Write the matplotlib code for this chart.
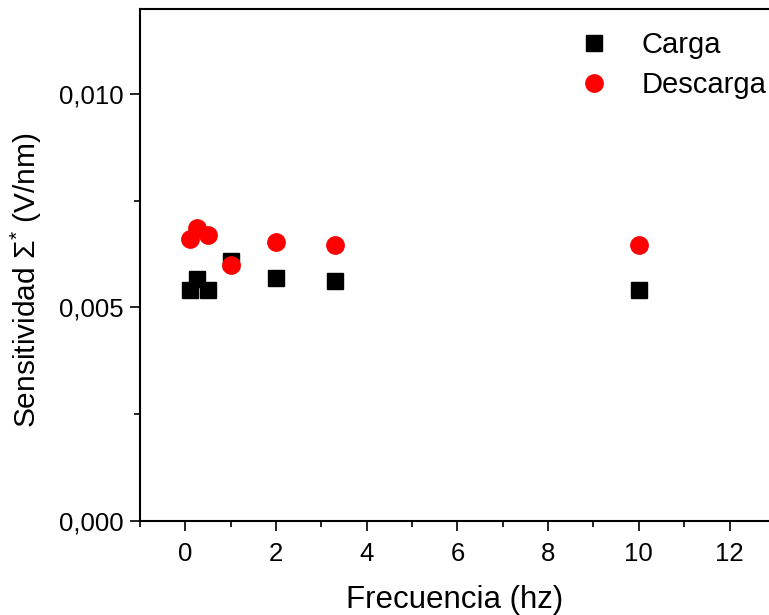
import numpy as np
import matplotlib.pyplot as plt
from matplotlib.ticker import MultipleLocator, FuncFormatter

plt.rcParams['font.family'] = ['Liberation Sans', 'DejaVu Sans']
plt.rcParams['mathtext.fontset'] = 'custom'
plt.rcParams['mathtext.rm'] = 'Liberation Sans'
plt.rcParams['mathtext.it'] = 'Liberation Sans'

# datos
frec = [0.1, 0.25, 0.5, 1, 2, 3.3, 10]
carga = [0.00542, 0.00566, 0.00542, 0.00608, 0.00568, 0.00563, 0.00540]
descarga = [0.00660, 0.00685, 0.00670, 0.00600, 0.00653, 0.00646, 0.00646]

fig = plt.figure(figsize=(7.69, 6.15), dpi=100)
ax = fig.add_axes([0.182, 0.153, 0.818, 0.833])

ax.plot(frec, carga, 's', color='black', markersize=11, label='Carga', zorder=2)
ax.plot(frec, descarga, 'o', color='red', markersize=12.5, label='Descarga', zorder=3)

ax.set_xlim(-1, 12.87)
ax.set_ylim(0, 0.012)
ax.xaxis.set_major_locator(MultipleLocator(2))
ax.xaxis.set_minor_locator(MultipleLocator(1))
ax.yaxis.set_major_locator(MultipleLocator(0.005))
ax.yaxis.set_minor_locator(MultipleLocator(0.0025))
ax.yaxis.set_major_formatter(FuncFormatter(lambda v, p: f'{v:.3f}'.replace('.', ',')))

ax.tick_params(which='major', direction='out', length=7, width=1.2, labelsize=18.5, pad=5)
ax.tick_params(axis='x', which='major', pad=8)
ax.tick_params(which='minor', direction='out', length=4, width=1.2)
ax.spines['right'].set_visible(False)
for s in ['left', 'bottom', 'top']:
    ax.spines[s].set_linewidth(1.5)

ax.set_xlabel('Frecuencia (hz)', fontsize=22.5, labelpad=14)
ax.set_ylabel('Sensitividad Σ$^{*}$ (V/nm)', fontsize=21.5)
ax.yaxis.set_label_coords(-0.153, 0.47)

ax.legend(loc='upper right', bbox_to_anchor=(1.024, 0.99), frameon=False,
          fontsize=21, handletextpad=0.9, labelspacing=0.4, borderaxespad=0.2,
          handlelength=1.5)

fig.savefig('out.png', dpi=100)
